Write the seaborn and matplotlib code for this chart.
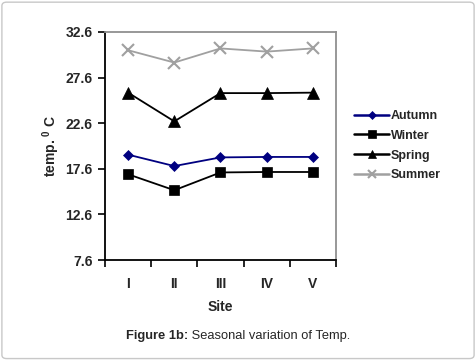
import matplotlib
matplotlib.use("Agg")
import matplotlib.pyplot as plt
import seaborn as sns
import pandas as pd
from matplotlib.patches import FancyBboxPatch
from matplotlib.lines import Line2D

sites = ["I", "II", "III", "IV", "V"]
autumn = [19.15, 17.9, 18.85, 18.9, 18.9]
winter = [17.0, 15.25, 17.2, 17.25, 17.25]
spring = [25.95, 22.8, 25.9, 25.9, 25.95]
summer = [30.6, 29.25, 30.8, 30.45, 30.8]
series_names = ["Autumn", "Winter", "Spring", "Summer"]
yticks = [7.6, 12.6, 17.6, 22.6, 27.6, 32.6]

sns.set_style("white")
plt.rcParams['font.family'] = ['Liberation Sans', 'DejaVu Sans']
plt.rcParams['mathtext.fontset'] = 'custom'
plt.rcParams['mathtext.rm'] = 'Liberation Sans'
plt.rcParams['mathtext.bf'] = 'Liberation Sans:bold'
plt.rcParams['mathtext.it'] = 'Liberation Sans:italic'

fig = plt.figure(figsize=(4.76, 3.6), dpi=100)
border = FancyBboxPatch((0.004, 0.004), 0.992, 0.99, boxstyle="round,pad=0,rounding_size=0.01",
                        transform=fig.transFigure, facecolor="none", edgecolor="#c8c8c8",
                        lw=1.0, zorder=-1)
fig.patches.append(border)

ax = fig.add_axes([105/476, 1-260/360, 231/476, 228/360])
ax.set_facecolor("white")

styles = {
    "Autumn": dict(color="#000080", marker="D", ms=5.5, lw=1.3),
    "Winter": dict(color="black", marker="s", ms=7.5, lw=1.3),
    "Spring": dict(color="black", marker="^", ms=8, lw=1.3),
    "Summer": dict(color="#a0a0a0", marker="x", ms=8, lw=1.3),
}
data = {"Autumn": autumn, "Winter": winter, "Spring": spring, "Summer": summer}

handles = []
for name in series_names:
    st = styles[name]
    mew = 1.5 if st["marker"] == "x" else 0.5
    df = pd.DataFrame({"site": sites, "val": data[name]})
    sns.lineplot(data=df, x="site", y="val", ax=ax, color=st["color"], marker=st["marker"],
                 markersize=st["ms"], linewidth=st["lw"], markeredgecolor=st["color"],
                 markeredgewidth=mew, sort=False)
    handles.append(Line2D([], [], color=st["color"], marker=st["marker"],
                          markersize=st["ms"] * 0.8, lw=1.8, markeredgecolor=st["color"],
                          markeredgewidth=mew))

ax.set_xlim(-0.5, 4.5)
ax.set_ylim(7.6, 32.6)
ax.set_yticks(yticks)
ax.set_yticklabels([f"{v:.1f}" for v in yticks], fontsize=10, fontweight="bold")
ax.set_xticks(range(len(sites)))
ax.set_xticklabels(sites, fontsize=10, fontweight="bold")
ax.tick_params(axis="x", which="major", length=0, pad=12)
ax.set_xticks([i - 0.5 for i in range(len(sites) + 1)], minor=True)
ax.tick_params(axis="x", which="minor", length=5, width=1.2, color="black", direction="out", bottom=True)
ax.tick_params(axis="y", length=5, width=1.2, color="black", direction="out", left=True, pad=4)

for s in ["left", "bottom"]:
    ax.spines[s].set_color("black")
    ax.spines[s].set_linewidth(1.3)
for s in ["top", "right"]:
    ax.spines[s].set_color("#909090")
    ax.spines[s].set_linewidth(1.3)

ax.set_xlabel("Site", fontsize=10, fontweight="bold", labelpad=7)
ax.set_ylabel(r"temp. $^{\mathbf{0}}$ C", fontsize=10, fontweight="bold", labelpad=2)

leg = fig.legend(handles, series_names, loc="upper left", bbox_to_anchor=(354/476, 1-110/360),
                 frameon=False, prop=dict(size=9, weight="bold"), handlelength=2.8,
                 handletextpad=0.15, labelspacing=0.62, borderaxespad=0, borderpad=0)

# caption: bold part followed by regular part, centered as a whole
cap_y = 1 - 336/360
t1 = fig.text(0, cap_y, "Figure 1b:", fontsize=9.3, fontweight="bold", va="center", ha="left")
t2 = fig.text(0, cap_y, " Seasonal variation of Temp.", fontsize=9.3, va="center", ha="left")
fig.canvas.draw()
r = fig.canvas.get_renderer()
w1 = t1.get_window_extent(r).width / fig.bbox.width
w2 = t2.get_window_extent(r).width / fig.bbox.width
x0 = 0.5 - (w1 + w2) / 2
t1.set_x(x0)
t2.set_x(x0 + w1)

fig.savefig("out.png", dpi=100)
